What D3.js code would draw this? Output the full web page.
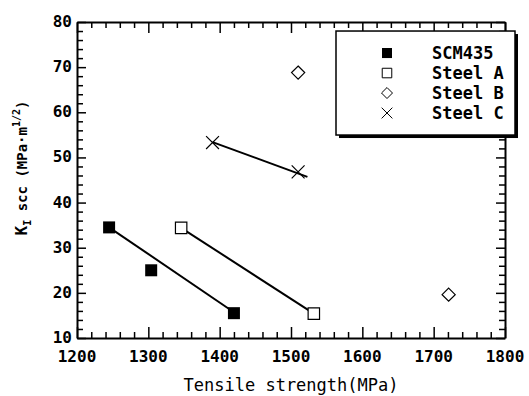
<!DOCTYPE html>
<html>
<head>
<meta charset="utf-8">
<script src="https://cdn.jsdelivr.net/npm/d3@7"></script>
<style>
  body { margin: 0; background: #fff; }
  text { font-family: "DejaVu Sans Mono", "Liberation Mono", monospace; fill: #000; }
</style>
</head>
<body>
<div id="zone_graphique"></div>
<script>
var largeur = 529;
var hauteur = 396;

// données
var series = ["SCM435", "Steel A", "Steel B", "Steel C"];
var scmTS = [1245, 1304, 1420];
var scmK = [34.5, 25, 15.5];
var steelATS = [1346, 1532];
var steelAK = [34.4, 15.4];
var steelBTS = [1510, 1721];
var steelBK = [68.8, 19.6];
var steelCTS = [1390, 1510];
var steelCK = [53.3, 46.8];
// droites de tendance (début, fin)
var fitSCM = [[1247, 34.3], [1421, 15.6]];
var fitA = [[1347, 34.3], [1531, 15.5]];
var fitC = [[1390, 53.4], [1523, 45.7]];
var xTicks = [1200, 1300, 1400, 1500, 1600, 1700, 1800];
var yTicks = [10, 20, 30, 40, 50, 60, 70, 80];

var marge = {haut: 22, droite: 24, bas: 58, gauche: 77},
    width = largeur - marge.gauche - marge.droite,
    height = hauteur - marge.haut - marge.bas;

var svg = d3.select("#zone_graphique")
    .append("svg")
        .attr("width", largeur)
        .attr("height", hauteur)
    .append("g")
        .attr("transform", "translate(" + marge.gauche + "," + marge.haut + ")");

var x = d3.scaleLinear()
    .domain([1200, 1800])
    .range([0, width]);
var y = d3.scaleLinear()
    .domain([10, 80])
    .range([height, 0]);

// graduations mineures (tous les 20 MPa et 2 unités)
var xMinor = d3.range(1200, 1801, 20);
var yMinor = d3.range(10, 81, 2);

function estMajeur(v, pas) { return Math.abs(v % pas) < 1e-6; }

// bas
svg.append("g")
    .attr("transform", "translate(0," + height + ")")
    .call(d3.axisBottom(x).tickValues(xMinor).tickSizeInner(-6).tickSizeOuter(0).tickFormat(""))
    .call(function(g) {
        g.selectAll(".tick line").filter(function(d) { return estMajeur(d, 100); }).attr("y2", -11);
        g.select(".domain").attr("stroke-width", 2);
        g.selectAll(".tick line").attr("stroke-width", 1.5);
    });
// haut
svg.append("g")
    .call(d3.axisTop(x).tickValues(xMinor).tickSizeInner(-6).tickSizeOuter(0).tickFormat(""))
    .call(function(g) {
        g.selectAll(".tick line").filter(function(d) { return estMajeur(d, 100); }).attr("y2", 11);
        g.select(".domain").attr("stroke-width", 2);
        g.selectAll(".tick line").attr("stroke-width", 1.5);
    });
// gauche
svg.append("g")
    .call(d3.axisLeft(y).tickValues(yMinor).tickSizeInner(-6).tickSizeOuter(0).tickFormat(""))
    .call(function(g) {
        g.selectAll(".tick line").filter(function(d) { return estMajeur(d, 10); }).attr("x2", 9);
        g.select(".domain").attr("stroke-width", 2);
        g.selectAll(".tick line").attr("stroke-width", 1.5);
    });
// droite
svg.append("g")
    .attr("transform", "translate(" + width + ",0)")
    .call(d3.axisRight(y).tickValues(yMinor).tickSizeInner(-6).tickSizeOuter(0).tickFormat(""))
    .call(function(g) {
        g.selectAll(".tick line").filter(function(d) { return estMajeur(d, 10); }).attr("x2", -9);
        g.select(".domain").attr("stroke-width", 2);
        g.selectAll(".tick line").attr("stroke-width", 1.5);
    });

// étiquettes des axes
svg.append("g")
    .selectAll("text")
    .data(xTicks)
    .enter()
    .append("text")
        .attr("x", function(d) { return x(d); })
        .attr("y", height + 24)
        .attr("text-anchor", "middle")
        .attr("font-size", "16px")
        .attr("font-weight", "bold")
        .text(function(d) { return d; });

svg.append("g")
    .selectAll("text")
    .data(yTicks)
    .enter()
    .append("text")
        .attr("x", -5)
        .attr("y", function(d) { return y(d) + 5; })
        .attr("text-anchor", "end")
        .attr("font-size", "16px")
        .attr("font-weight", "bold")
        .text(function(d) { return d; });

// titre axe x
svg.append("text")
    .attr("x", width / 2)
    .attr("y", height + 53)
    .attr("text-anchor", "middle")
    .attr("font-size", "17px")
    .text("Tensile strength(MPa)");

// titre axe y
var titreY = svg.append("text")
    .attr("transform", "translate(-50," + (height / 2 - 12) + ") rotate(-90)")
    .attr("text-anchor", "middle")
    .attr("font-size", "14px")
    .attr("font-weight", "bold");
titreY.append("tspan").attr("font-size", "16px").text("K");
titreY.append("tspan").attr("font-size", "10px").attr("dy", 4).text("I");
titreY.append("tspan").attr("dy", -4).text(" scc (MPa·m");
titreY.append("tspan").attr("font-size", "10px").attr("dy", -7).text("1/2");
titreY.append("tspan").attr("dy", 7).text(")");

// droites de tendance
var ligne = d3.line()
    .x(function(d) { return x(d[0]); })
    .y(function(d) { return y(d[1]); });

svg.selectAll("path.fit")
    .data([fitSCM, fitA, fitC])
    .enter()
    .append("path")
        .attr("class", "fit")
        .attr("d", ligne)
        .attr("fill", "none")
        .attr("stroke", "#000")
        .attr("stroke-width", 2);

// symboles
var symboles = [
    {type: d3.symbolSquare, taille: 144, fill: "#000", stroke: "none"},
    {type: d3.symbolSquare, taille: 130, fill: "#fff", stroke: "#000"},
    {type: d3.symbolDiamond2, taille: 110, fill: "#fff", stroke: "#000"},
    {type: d3.symbolX, taille: 110, fill: "none", stroke: "#000"}
];
var donnees = [
    d3.zip(scmTS, scmK),
    d3.zip(steelATS, steelAK),
    d3.zip(steelBTS, steelBK),
    d3.zip(steelCTS, steelCK)
];

donnees.forEach(function(pts, i) {
    var s = symboles[i];
    svg.append("g")
        .selectAll("path")
        .data(pts)
        .enter()
        .append("path")
            .attr("transform", function(d) { return "translate(" + x(d[0]) + "," + y(d[1]) + ")"; })
            .attr("d", d3.symbol().type(s.type).size(s.taille))
            .attr("fill", s.fill)
            .attr("stroke", s.stroke)
            .attr("stroke-width", 1.2);
});

// légende avec ombre
var leg = svg.append("g")
    .attr("transform", "translate(" + (336 - marge.gauche) + "," + y(78) + ")");
var legL = 179, legH = 104;
leg.append("rect")
    .attr("x", 3).attr("y", 3)
    .attr("width", legL).attr("height", legH)
    .attr("fill", "#000");
leg.append("rect")
    .attr("width", legL).attr("height", legH)
    .attr("fill", "#fff")
    .attr("stroke", "#000")
    .attr("stroke-width", 1.5);

series.forEach(function(nom, i) {
    var s = symboles[i];
    var yy = 22 + i * 20;
    leg.append("path")
        .attr("transform", "translate(51," + yy + ")")
        .attr("d", d3.symbol().type(s.type).size(s.taille * 0.7))
        .attr("fill", s.fill)
        .attr("stroke", s.stroke)
        .attr("stroke-width", 1);
    leg.append("text")
        .attr("x", 96)
        .attr("y", yy + 6)
        .attr("font-size", "17px")
        .attr("font-weight", "bold")
        .text(nom);
});
</script>
</body>
</html>
